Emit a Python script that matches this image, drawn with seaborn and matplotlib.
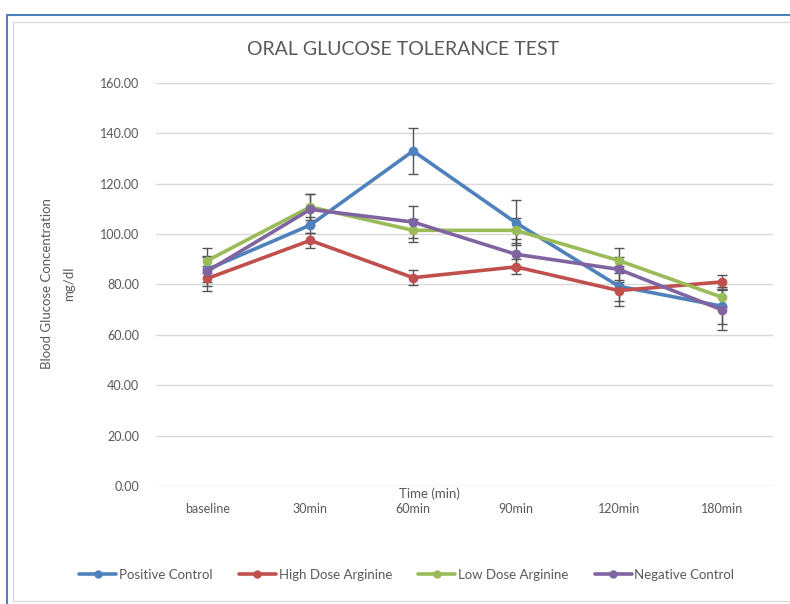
import numpy as np
import pandas as pd
import matplotlib
matplotlib.use("Agg")
import matplotlib.pyplot as plt
import seaborn as sns
from matplotlib.lines import Line2D

# values
time_points = ['baseline', '30min', '60min', '90min', '120min', '180min']
groups = ['Positive Control', 'High Dose Arginine', 'Low Dose Arginine', 'Negative Control']
positive_control = [86.0, 103.6, 133.0, 104.5, 79.3, 71.4]
high_dose = [82.4, 97.5, 82.7, 87.0, 77.6, 81.0]
low_dose = [89.5, 110.8, 101.5, 101.5, 89.5, 75.0]
negative_control = [85.3, 109.8, 104.8, 92.0, 86.0, 70.0]
positive_err = [5.0, 3.0, 9.0, 9.0, 8.0, 7.0]
high_err = [5.0, 3.0, 3.0, 3.0, 4.0, 2.6]
low_err = [5.0, 5.0, 4.6, 5.0, 5.0, 4.0]
negative_err = [6.0, 6.0, 6.4, 6.0, 5.0, 8.0]

colors = ['#4F81BD', '#C0504D', '#9BBB59', '#8064A2']
text_color = '#595959'

series = [positive_control, high_dose, low_dose, negative_control]
errs = [positive_err, high_err, low_err, negative_err]

rows = []
for g, vals, e in zip(groups, series, errs):
    for i, (t, v, s) in enumerate(zip(time_points, vals, e)):
        rows.append({'group': g, 'pos': i, 'time': t, 'glucose': v, 'err': s})
df = pd.DataFrame(rows)

sns.set_style('white')
plt.rcParams['font.family'] = ['Lato', 'DejaVu Sans']

fig = plt.figure(figsize=(7.9, 6.04), dpi=100)
ax = fig.add_axes([0.1975, 0.1954, 0.781, 0.6672])

# error bars first so lines sit on top
for g, c in zip(groups, colors):
    d = df[df['group'] == g]
    ax.errorbar(d['pos'], d['glucose'], yerr=d['err'], fmt='none',
                ecolor='#555555', elinewidth=1, capsize=3.5, capthick=1, zorder=2)

sns.lineplot(data=df, x='pos', y='glucose', hue='group', hue_order=groups,
             palette=colors, marker='o', markersize=7, markeredgewidth=0,
             linewidth=2.6, ax=ax, legend=False, zorder=3)

ax.set_xlim(-0.5, 5.5)
ax.set_ylim(0, 160)
ax.set_yticks(np.arange(0, 161, 20))
ax.set_yticklabels([f'{v:.2f}' for v in np.arange(0, 161, 20)], color=text_color, fontsize=9)
ax.set_xticks(range(len(time_points)))
ax.set_xticklabels(time_points, color=text_color, fontsize=9)
ax.tick_params(axis='both', length=0, pad=12)
ax.grid(axis='y', color='#d9d9d9', linewidth=1)
for s in ax.spines.values():
    s.set_visible(False)

ax.set_xlabel('')
ax.set_ylabel('')
fig.text(0.543, 0.182, 'Time (min)', ha='center', va='center', color=text_color, fontsize=9.5)
fig.text(0.06, 0.53, 'Blood Glucose Concentration', rotation=90, ha='center', va='center',
         color=text_color, fontsize=9.5)
fig.text(0.088, 0.53, 'mg/dl', rotation=90, ha='center', va='center',
         color=text_color, fontsize=9.5)
fig.text(0.51, 0.918, 'ORAL GLUCOSE TOLERANCE TEST', ha='center', va='center',
         color=text_color, fontsize=14)

handles = [Line2D([0], [0], color=c, linewidth=2.6, marker='o', markersize=6, markeredgewidth=0)
           for c in colors]
fig.legend(handles, groups, loc='center', bbox_to_anchor=(0.515, 0.048), ncol=4, frameon=False,
           fontsize=9.5, labelcolor=text_color, handlelength=2.8, handletextpad=0.2, columnspacing=2.0)

# chart frame
fig.add_artist(Line2D([0.009, 0.009], [0, 0.975], color='#4F81BD', linewidth=1.5, transform=fig.transFigure))
fig.add_artist(Line2D([0.009, 1.0], [0.975, 0.975], color='#4F81BD', linewidth=1.5, transform=fig.transFigure))
fig.add_artist(Line2D([0.016, 0.016], [0.005, 0.964], color='#d9d9d9', linewidth=1, transform=fig.transFigure))
fig.add_artist(Line2D([0.016, 1.0], [0.964, 0.964], color='#d9d9d9', linewidth=1, transform=fig.transFigure))
fig.add_artist(Line2D([0.016, 1.0], [0.005, 0.005], color='#d9d9d9', linewidth=1, transform=fig.transFigure))

fig.savefig('out.png', dpi=100)
